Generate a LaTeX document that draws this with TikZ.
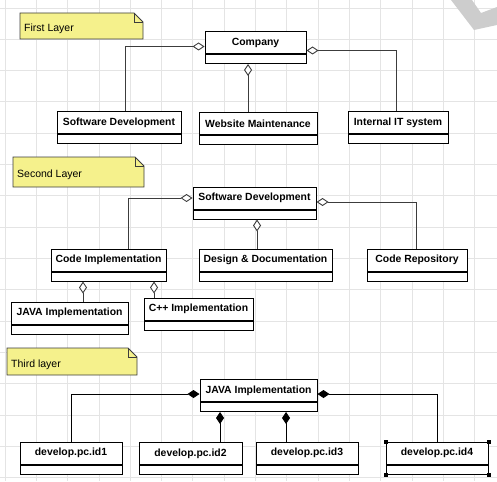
\documentclass[tikz,border=0pt]{standalone}
\usepackage{fontspec}
\setmainfont{Liberation Sans}
\usetikzlibrary{positioning,arrows.meta}
\definecolor{notefill}{RGB}{245,241,140}
\definecolor{gridgray}{RGB}{228,228,228}
\definecolor{linegray}{RGB}{60,60,60}
\definecolor{markgray}{RGB}{205,205,205}
\begin{document}
\begin{tikzpicture}[x=1pt, y=-1pt,
    cls/.style={draw, line width=1pt, fill=white, inner sep=0pt, minimum height=22pt,
        font=\fontsize{10.4}{12}\selectfont\bfseries},
    note/.style={draw=linegray, line width=0.9pt, fill=notefill},
    notelabel/.style={inner sep=0pt, font=\fontsize{10.5}{12}\selectfont},
    agg/.style={{Diamond[length=12pt, width=8pt, fill=white]}-, draw=linegray, line width=0.9pt},
    comp/.style={{Diamond[length=12pt, width=8pt]}-, draw=black, line width=0.9pt}]
    \useasboundingbox (0,0) rectangle (497,481);
    % grid
    \foreach \i in {0,...,15} {
        \draw[gridgray, line width=0.8pt] ({5+31.3*\i},0) -- ({5+31.3*\i},481);
        \draw[gridgray, line width=0.8pt] (0,{8+31.3*\i}) -- (497,{8+31.3*\i});
    }
    \fill[markgray] (451,0) -- (472,0) -- (481,13) -- (497,7) -- (497,25) -- (474,30) -- cycle;
    % notes
    \foreach \n/\xa/\ya/\xb/\yb/\t in {lay1/20/13/143/39/First Layer,
            lay2/13/157/144/187/Second Layer, lay3/7/348/137/375/Third layer} {
        \draw[note] (\xa,\ya) -- (\xb-9,\ya) -- (\xb,\ya+9) -- (\xb,\yb) -- (\xa,\yb) -- cycle;
        \draw[note, fill=none] (\xb-9,\ya) -- (\xb-9,\ya+9) -- (\xb,\ya+9);
        \node[notelabel, anchor=west] (\n) at (\xa+4, {(\ya+\yb)/2+3}) {\t};
    }
    % classes
    \foreach \n/\x/\y/\w/\t in {co/255.5/42.5/101/Company,
            sd1/119/123/124/Software Development, wm/258/123.5/118/Website Maintenance,
            it/398/123/100/Internal IT system,
            sd2/254.5/198/123/Software Development, ci/108.5/260/115/Code Implementation,
            dd/265.5/260/133/Design \& Documentation, cr/417/260/100/Code Repository,
            ja2/69.5/313/117/JAVA Implementation, cpp/198.5/309/109/C++ Implementation,
            ja3/258.5/390.5/117/JAVA Implementation,
            id1/71/453/102/develop.pc.id1, id2/190.5/453.5/103/develop.pc.id2,
            id3/307/453/102/develop.pc.id3, id4/437/453/102/develop.pc.id4} {
        \node[cls, minimum width=\w pt] (\n) at (\x,\y) {\t};
        \node[cls, minimum width=\w pt, minimum height=9pt, below=0pt of \n] (\n-b) {};
    }
    % first layer
    \draw[agg] ([yshift=-4pt]co.west) -| ([xshift=6pt]sd1.north);
    \coordinate (co-m) at ([xshift=-7.5pt]co-b.south);
    \draw[agg] (co-m) -- (co-m |- wm.north);
    \draw[agg] ([yshift=-8pt]co.east) -| ([xshift=-2pt]it.north);
    % second layer
    \draw[agg] (sd2.west) -| ([xshift=19.5pt]ci.north);
    \coordinate (sd2-m) at ([xshift=2.5pt]sd2-b.south);
    \draw[agg] (sd2-m) -- (sd2-m |- dd.north);
    \draw[agg] ([yshift=-4pt]sd2.east) -| ([xshift=-1pt]cr.north);
    \coordinate (ci-l) at ([xshift=-25.5pt]ci-b.south);
    \coordinate (ci-r) at ([xshift=45.5pt]ci-b.south);
    \draw[agg] (ci-l) -- (ci-l |- ja2.north);
    \draw[agg] (ci-r) -- (ci-r |- cpp.north);
    % third layer
    \draw[comp] ([yshift=-3.5pt]ja3.west) -| (id1.north);
    \coordinate (ja3-l) at ([xshift=-38.5pt]ja3-b.south);
    \coordinate (ja3-r) at ([xshift=27.5pt]ja3-b.south);
    \draw[comp] (ja3-l) -- (ja3-l |- id2.north);
    \draw[comp] (ja3-r) -- (ja3-r |- id3.north);
    \draw[comp] ([yshift=-3.5pt]ja3.east) -| (id4.north);
    \foreach \c in {id4.north west, id4.north east, id4-b.south west, id4-b.south east}
        \fill ([shift={(-2pt,-2pt)}]\c) rectangle ++(4pt,4pt);
\end{tikzpicture}
\end{document}
